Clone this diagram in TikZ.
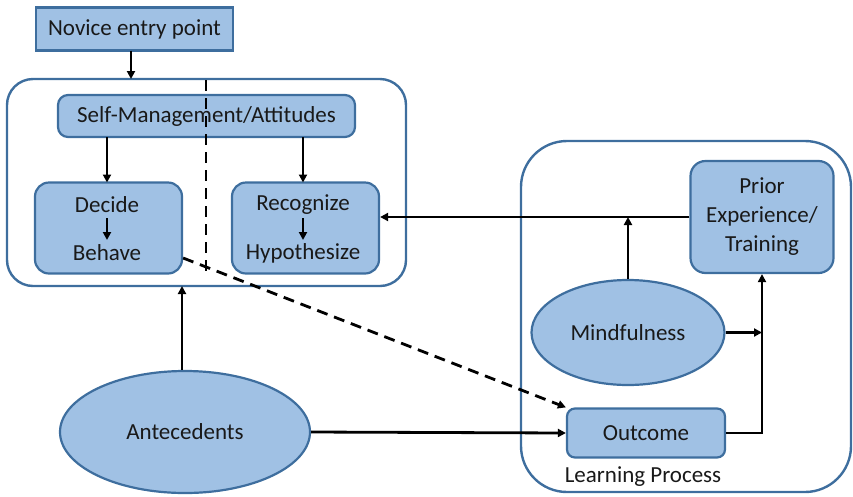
\documentclass[tikz,border=0pt]{standalone}
\usepackage{fontspec}
\setmainfont{Carlito}
\usetikzlibrary{arrows.meta,shapes.geometric}
\definecolor{boxfill}{RGB}{160,193,228}
\definecolor{boxline}{RGB}{62,110,158}
\begin{document}
\begin{tikzpicture}[x=1pt,y=-1pt,
  lbl/.style={font=\fontsize{23}{29}\selectfont, text=black!90},
  blk/.style={draw=boxline, line width=2.2pt, fill=boxfill},
  frame/.style={draw=boxline, line width=2.4pt},
  arr/.style={line width=2.8pt, -{Triangle[length=8pt,width=8pt]}},
  dsh/.style={line width=2.8pt, dash pattern=on 11pt off 7pt}]
\useasboundingbox (0,0) rectangle (853,496);

% outer groups
\draw[frame, rounded corners=26pt] (7,79) rectangle (406,286);
\draw[frame, rounded corners=46pt] (521,141) rectangle (851,492);

% boxes
\node[blk, minimum width=197pt, minimum height=43pt, lbl] (novice) at (134.5,29) {Novice entry point};
\node[blk, rounded corners=10pt, minimum width=297pt, minimum height=42pt, lbl] (self) at (206.5,116) {Self-Management/Attitudes};
\node[blk, rounded corners=14pt, minimum width=147pt, minimum height=91pt] (decide) at (108.5,228) {};
\node[blk, rounded corners=14pt, minimum width=147pt, minimum height=91pt] (recog) at (305.5,228) {};
\node[lbl] (decT) at (107,205) {Decide};
\node[lbl] (behT) at (107,253) {Behave};
\node[lbl] (recT) at (303,205) {Recognize};
\node[lbl] (hypT) at (303,253) {Hypothesize};
\node[blk, rounded corners=15pt, minimum width=143pt, minimum height=112pt, lbl, align=center] (prior) at (762,217) {Prior\\Experience/\\Training};
\node[blk, ellipse, minimum width=193pt, minimum height=105pt, inner sep=0pt, lbl] (mind) at (628,332.5) {Mindfulness};
\node[blk, rounded corners=8pt, minimum width=158pt, minimum height=49pt, lbl] (outc) at (646,433) {Outcome};
\node[blk, ellipse, minimum width=250pt, minimum height=122pt, inner sep=0pt, lbl] (ante) at (185,432) {Antecedents};
\node[lbl] (lp) at (643,477) {Learning Process};

% junction points
\coordinate (nvin) at (131,79);
\coordinate (leftbot) at (182,286);
\coordinate (mjoin) at (628,217);
\coordinate (pjoin) at (762,332.5);
\coordinate (ojoin) at (762,433);
\coordinate (dtop) at (206,80);
\coordinate (dbot) at (206,278);
\coordinate (dmid) at (107,218);
\coordinate (dlow) at (107,240);
\coordinate (rmid) at (303,218);
\coordinate (rlow) at (303,240);

% connectors
\draw[arr] (131,50.5) -- (nvin);
\draw[arr] (107,137) -- (107,182.5);
\draw[arr] (303,137) -- (303,182.5);
\draw[arr] (dmid) -- (dlow);
\draw[arr] (rmid) -- (rlow);
\draw[arr] (prior.west |- 0,217) -- (recog.east |- 0,217);
\draw[arr] (mind.north) -- (mjoin);
\draw[arr] (mind.east) -- (pjoin);
\draw[arr] (outc.east) -- (ojoin) -- (prior.south -| ojoin);
\draw[arr] (ante.north -| leftbot) -- (leftbot);
\draw[arr] (ante.east) -- (outc.west);
\draw[dsh] (dtop) -- (dbot);
\draw[dsh, -{Triangle[length=8pt,width=8pt]}] (decide.east |- 0,258) -- (outc.north west);
\end{tikzpicture}
\end{document}
